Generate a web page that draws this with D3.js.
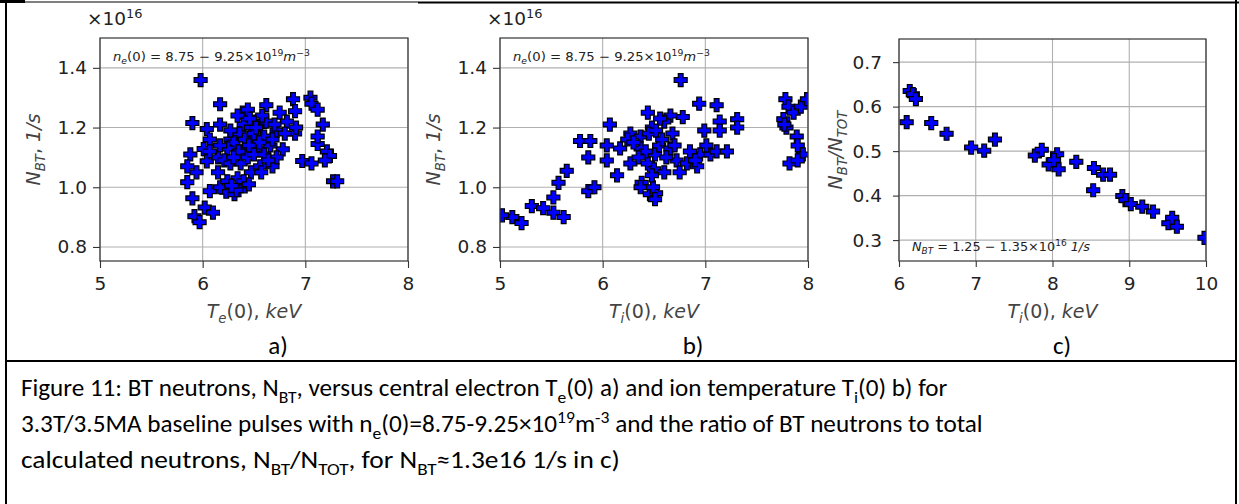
<!DOCTYPE html>
<html>
<head>
<meta charset="utf-8">
<script src="https://cdn.jsdelivr.net/npm/d3@7"></script>
<style>
  body { margin: 0; background: #fff; }
</style>
</head>
<body>
<script>
// panel a: N_BT vs Te(0)
var teA = [5.98,6.17,5.90,6.04,6.17,6.07,6.01,5.88,5.85,5.94,5.85,5.90,5.92,5.97,6.02,6.10,6.07,6.23,6.31,6.41,6.17,6.04,6.15,
  6.88,6.90,7.05,7.06,7.12,7.17,7.12,7.12,7.21,7.24,7.19,6.97,7.06,7.27,7.31,6.90,6.91,6.75,6.82,6.62,6.72,6.78,6.72,6.68,6.56,
  6.39,6.44,6.50,6.40,6.36,6.27,6.47,6.56,6.60,6.53,6.40,6.30,6.24,6.21,6.27,6.37,6.44,6.50,6.47,6.34,6.40,6.24,6.15,6.60,6.66,
  6.64,6.57,6.47,6.41,6.34,6.27,6.17,6.07,6.50,6.55,6.45,6.35,6.30,6.33,6.28,6.45,6.52,6.62,6.70,6.68,6.80,6.58,6.46];
var nbtA = [1.359,1.278,1.215,1.195,1.21,1.16,1.128,1.11,1.07,1.05,1.017,0.963,0.903,0.883,0.932,0.915,0.987,0.985,0.977,1.003,1.0,1.087,1.10,
  1.295,1.255,1.30,1.28,1.26,1.21,1.145,1.17,1.12,1.105,1.09,1.088,1.08,1.02,1.02,1.18,1.20,1.25,1.22,1.275,1.19,1.127,1.10,1.07,1.07,
  1.25,1.26,1.22,1.21,1.18,1.16,1.20,1.205,1.17,1.13,1.12,1.15,1.13,1.09,1.08,1.08,1.10,1.11,1.05,1.03,1.02,1.02,1.05,1.11,1.14,
  1.09,1.05,1.16,1.16,1.24,1.19,1.14,1.12,1.18,1.15,1.14,1.12,1.10,0.99,1.005,1.01,1.20,1.22,1.21,1.16,1.18,1.24,1.23];

// panel b: N_BT vs Ti(0)
var tiB = [6.76,6.94,7.11,7.31,7.31,7.14,7.14,6.99,6.78,6.66,6.60,6.44,6.48,6.07,5.78,5.88,5.86,6.04,6.04,6.17,6.27,6.24,6.37,6.37,
  6.44,6.51,6.55,6.66,6.72,6.75,6.82,6.92,6.95,7.05,7.01,7.11,7.21,6.27,6.14,6.38,5.65,5.57,5.86,5.92,5.52,5.31,5.42,5.52,5.62,
  5.12,5.21,5.02,6.37,6.46,6.52,6.49,6.51,7.76,7.79,7.78,7.81,7.86,7.93,7.89,7.90,7.95,7.82,7.90,7.99,7.77,
  6.45,6.52,6.58,6.62,6.50,6.42,6.30,6.68,6.85,6.90,6.56,6.70,6.35,6.60,6.48];
var nbtB = [1.359,1.28,1.275,1.228,1.20,1.22,1.19,1.19,1.235,1.24,1.22,1.25,1.20,1.21,1.155,1.155,1.10,1.14,1.09,1.13,1.18,1.16,1.17,1.13,
  1.08,1.11,1.14,1.13,1.09,1.05,1.08,1.07,1.11,1.11,1.14,1.12,1.12,1.08,1.04,1.015,1.055,1.015,0.987,1.0,0.966,0.937,0.93,0.915,0.90,
  0.90,0.88,0.906,1.0,0.977,0.98,1.0,0.96,1.228,1.20,1.295,1.27,1.25,1.27,1.17,1.14,1.11,1.08,1.09,1.295,1.21,
  1.18,1.19,1.16,1.10,1.06,1.12,1.15,1.18,1.12,1.09,1.23,1.14,1.10,1.05,1.04];

// panel c: N_BT/N_TOT vs Ti(0)
var tiC = [6.14,6.18,6.22,6.10,6.42,6.62,6.94,7.11,7.25,7.77,7.86,7.95,8.06,8.08,8.02,8.31,8.54,8.66,8.75,8.53,8.91,8.95,9.02,9.17,9.31,9.51,9.56,9.62,9.98];
var ratioC = [0.635,0.628,0.617,0.565,0.563,0.539,0.508,0.501,0.526,0.49,0.503,0.47,0.493,0.459,0.48,0.476,0.462,0.447,0.447,0.412,0.399,0.39,0.381,0.375,0.364,0.338,0.35,0.33,0.305];

var xTicksAB = [5, 6, 7, 8];
var yTicksAB = [0.8, 1.0, 1.2, 1.4];
var xTicksC = [6, 7, 8, 9, 10];
var yTicksC = [0.3, 0.4, 0.5, 0.6, 0.7];

var W = 1239, H = 504;
var MPL = "'DejaVu Sans', sans-serif";
var DOC = "Carlito, Calibri, 'Open Sans', sans-serif";

var svg = d3.select('body').append('svg').attr('width', W).attr('height', H);
svg.append('rect').attr('width', W).attr('height', H).attr('fill', '#fff');

// text with sub/superscripts as tspans
function rich(t, parts, size){
	var off = 0;
	parts.forEach(function(p){
		var s = typeof p === 'string' ? p : p[0];
		var k = typeof p === 'string' ? '' : p[1];
		var ts = t.append('tspan').text(s);
		var target = 0, fs = size;
		if (k.indexOf('sub') >= 0){ target = size*0.28; fs = size*0.7; }
		if (k.indexOf('sup') >= 0){ target = -size*0.38; fs = size*0.7; }
		if (k.charAt(0) === 'i') ts.attr('font-style', 'italic');
		ts.attr('font-size', fs);
		if (target !== off){ ts.attr('dy', target - off); off = target; }
	});
	return t;
}
function fitWidth(t, x0, w){
	var cur = t.node().getComputedTextLength();
	var k = w / cur;
	t.attr('transform', 'translate(' + x0 + ',0) scale(' + k + ',1) translate(' + (-x0) + ',0)');
}

function plusPath(h, a){
	return 'M' + (-a) + ',' + (-h) + 'H' + a + 'V' + (-a) + 'H' + h + 'V' + a + 'H' + a + 'V' + h +
		'H' + (-a) + 'V' + a + 'H' + (-h) + 'V' + (-a) + 'H' + (-a) + 'Z';
}

var panels = [
	{id:'a', xs:teA, ys:nbtA, left:100, right:408, top:38, bottom:261, xDom:[5,8], yDom:[0.753,1.5],
	 xTicks:xTicksAB, yTicks:yTicksAB, yPad:6, tick:7,
	 xLabel:[['T','i'],['e','isub'],'(0), ',['keV','i']], yLabel:[['N','i'],['BT','isub'],', ',['1/s','i']], yLabelX:33,
	 mult:true, tag:'a)', tagX:278},
	{id:'b', xs:tiB, ys:nbtB, left:500, right:808, top:38, bottom:261, xDom:[5,8], yDom:[0.753,1.5],
	 xTicks:xTicksAB, yTicks:yTicksAB, yPad:6, tick:7,
	 xLabel:[['T','i'],['i','isub'],'(0), ',['keV','i']], yLabel:[['N','i'],['BT','isub'],', ',['1/s','i']], yLabelX:433,
	 mult:true, tag:'b)', tagX:693},
	{id:'c', xs:tiC, ys:ratioC, left:899, right:1206, top:39, bottom:261, xDom:[6,10], yDom:[0.253,0.752],
	 xTicks:xTicksC, yTicks:yTicksC, yPad:11, tick:6,
	 xLabel:[['T','i'],['i','isub'],'(0), ',['keV','i']], yLabel:[['N','i'],['BT','isub'],['/N','i'],['TOT','isub']], yLabelX:835,
	 mult:false, tag:'c)', tagX:1062}
];

panels.forEach(function(p){
	var x = d3.scaleLinear().domain(p.xDom).range([p.left, p.right]);
	var y = d3.scaleLinear().domain(p.yDom).range([p.bottom, p.top]);
	var g = svg.append('g').attr('class', 'panel-' + p.id);

	// grid
	g.append('g').selectAll('line').data(p.xTicks).join('line')
		.attr('x1', function(d){ return x(d); }).attr('x2', function(d){ return x(d); })
		.attr('y1', p.top).attr('y2', p.bottom)
		.attr('stroke', '#b0b0b0').attr('stroke-width', 1.1);
	g.append('g').selectAll('line').data(p.yTicks).join('line')
		.attr('y1', function(d){ return y(d); }).attr('y2', function(d){ return y(d); })
		.attr('x1', p.left).attr('x2', p.right)
		.attr('stroke', '#b0b0b0').attr('stroke-width', 1.1);

	// in-plot note
	if (p.mult){
		var note = g.append('text').attr('x', p.left + 13).attr('y', 61)
			.attr('font-family', MPL).attr('fill', '#222');
		rich(note, [['n','i'],['e','isub'],'(0) = 8.75 − 9.25×10',['19','sup'],['m','i'],['−3','sup']], 12.5);
		fitWidth(note, p.left + 13, 197);
	} else {
		var note2 = g.append('text').attr('x', p.left + 13).attr('y', 251)
			.attr('font-family', MPL).attr('fill', '#222');
		rich(note2, [['N','i'],['BT','isub'],' = 1.25 − 1.35×10',['16','sup'],' ',['1/s','i']], 12.5);
		fitWidth(note2, p.left + 13, 178);
	}

	// markers
	g.append('clipPath').attr('id', 'clip-' + p.id).append('rect')
		.attr('x', p.left).attr('y', p.top).attr('width', p.right - p.left).attr('height', p.bottom - p.top);
	var pts = p.xs.map(function(v, i){ return {x: v, y: p.ys[i]}; });
	g.append('g').attr('clip-path', 'url(#clip-' + p.id + ')')
		.selectAll('path').data(pts).join('path')
		.attr('d', plusPath(6.5, 2.4))
		.attr('transform', function(d){ return 'translate(' + x(d.x) + ',' + y(d.y) + ')'; })
		.attr('fill', '#0000ff').attr('stroke', '#000').attr('stroke-width', 1.2)
		.attr('stroke-linejoin', 'miter');

	// axes
	var ax = g.append('g').attr('transform', 'translate(0,' + p.bottom + ')')
		.call(d3.axisBottom(x).tickValues(p.xTicks).tickFormat(d3.format('d')).tickSize(p.tick).tickPadding(16 - p.tick).tickSizeOuter(0));
	var ay = g.append('g').attr('transform', 'translate(' + p.left + ',0)')
		.call(d3.axisLeft(y).tickValues(p.yTicks).tickFormat(d3.format('.1f')).tickSize(p.tick).tickPadding(p.yPad).tickSizeOuter(0));
	[ax, ay].forEach(function(a){
		a.select('.domain').remove();
		a.selectAll('line').attr('stroke', '#333').attr('stroke-width', 1.1);
		a.selectAll('text').attr('font-size', 18.5).attr('font-family', MPL).attr('fill', '#222');
	});

	// spines
	g.append('rect').attr('x', p.left).attr('y', p.top)
		.attr('width', p.right - p.left).attr('height', p.bottom - p.top)
		.attr('fill', 'none').attr('stroke', '#333').attr('stroke-width', 1.2);

	// offset text
	if (p.mult){
		var off = g.append('text').attr('x', p.left - 13).attr('y', 25)
			.attr('font-family', MPL).attr('fill', '#222');
		rich(off, ['×10', ['16', 'sup']], 18.5);
	}

	// axis labels
	var xl = g.append('text').attr('x', (p.left + p.right) / 2).attr('y', 318)
		.attr('text-anchor', 'middle').attr('font-family', MPL).attr('fill', '#444');
	rich(xl, p.xLabel, 19);
	var yl = g.append('text').attr('transform', 'translate(' + (p.yLabelX + 7) + ',' + ((p.top + p.bottom) / 2) + ') rotate(-90)')
		.attr('text-anchor', 'middle').attr('font-family', MPL).attr('fill', '#444');
	rich(yl, p.yLabel, 19);

	// sub-figure tag
	svg.append('text').attr('x', p.tagX).attr('y', 354).attr('text-anchor', 'middle')
		.attr('font-family', DOC).attr('font-size', 25).attr('fill', '#000').text(p.tag);
});

// caption
var capLines = [
	{y:396, w:927, parts:['Figure 11: BT neutrons, N',['BT','sub'],', versus central electron T',['e','sub'],'(0) a) and ion temperature T',['i','sub'],'(0) b) for']},
	{y:432, w:962, parts:['3.3T/3.5MA baseline pulses with n',['e','sub'],'(0)=8.75-9.25×10',['19','sup'],'m',['-3','sup'],' and the ratio of BT neutrons to total']},
	{y:468, w:599, parts:['calculated neutrons, N',['BT','sub'],'/N',['TOT','sub'],', for N',['BT','sub'],'≈1.3e16 1/s in c)']}
];
capLines.forEach(function(l){
	var t = svg.append('text').attr('x', 21).attr('y', l.y).attr('font-family', DOC).attr('fill', '#000');
	rich(t, l.parts, 24.5);
	fitWidth(t, 21, l.w);
});

// table frame
var frame = svg.append('g').attr('stroke', '#000');
frame.append('line').attr('x1', 0).attr('x2', 418).attr('y1', 2).attr('y2', 2).attr('stroke-width', 1.2);
frame.append('line').attr('x1', 0).attr('x2', 25).attr('y1', 1.5).attr('y2', 1.5).attr('stroke-width', 3);
frame.append('line').attr('x1', 418).attr('x2', 1239).attr('y1', 2.5).attr('y2', 2.5).attr('stroke-width', 2);
frame.append('line').attr('x1', 6).attr('x2', 6).attr('y1', 0).attr('y2', H).attr('stroke-width', 2);
frame.append('line').attr('x1', 1236).attr('x2', 1236).attr('y1', 0).attr('y2', H).attr('stroke-width', 2);
frame.append('line').attr('x1', 6).attr('x2', 1236).attr('y1', 361).attr('y2', 361).attr('stroke-width', 2);
</script>
</body>
</html>
